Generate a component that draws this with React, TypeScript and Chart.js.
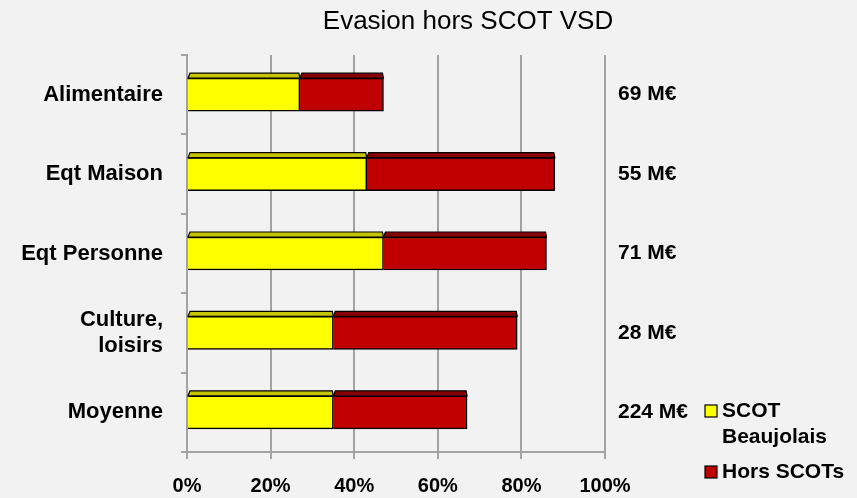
import React, { useEffect, useRef } from "react";
import { Chart, registerables } from "chart.js";

Chart.register(...registerables);

const chartTitle = "Evasion hors SCOT VSD";
const categories: (string | string[])[] = ["Alimentaire", "Eqt Maison", "Eqt Personne", ["Culture,", "loisirs"], "Moyenne"];
const scotBeaujolais = [27, 43, 47, 35, 35];
const horsScots = [20, 45, 39, 44, 32];
const totals = ["69 M€", "55 M€", "71 M€", "28 M€", "224 M€"];
const seriesNames = ["SCOT Beaujolais", "Hors SCOTs"];
const legendLines = [["SCOT", "Beaujolais"], ["Hors SCOTs"]];

const FONT = "'Liberation Sans', Arial, sans-serif";
const BG = "#f2f2f2";
const GRID = "#a3a3a3";
const faceColors = ["#ffff00", "#c00000"];
const topColors = ["#c4c400", "#8a0000"];

const bgPlugin = {
  id: "bg",
  beforeDraw(chart: any) {
    const { ctx, width, height } = chart;
    ctx.save();
    ctx.fillStyle = BG;
    ctx.fillRect(0, 0, width, height);
    ctx.restore();
  },
};

const topFacePlugin = {
  id: "topFace",
  afterDatasetsDraw(chart: any) {
    const ctx = chart.ctx;
    chart.data.datasets.forEach((ds: any, di: number) => {
      const meta = chart.getDatasetMeta(di);
      meta.data.forEach((el: any) => {
        const p = el.getProps(["x", "y", "base", "height"], true);
        const top = p.y - p.height / 2;
        const x0 = Math.min(p.base, p.x);
        const x1 = Math.max(p.base, p.x);
        ctx.save();
        ctx.beginPath();
        ctx.moveTo(x0, top);
        ctx.lineTo(x0 + 2, top - 5);
        ctx.lineTo(x1 - 1, top - 5);
        ctx.lineTo(x1, top);
        ctx.closePath();
        ctx.fillStyle = topColors[di];
        ctx.fill();
        ctx.lineWidth = 1.2;
        ctx.strokeStyle = "#000";
        ctx.stroke();
        ctx.restore();
      });
    });
  },
};

const titlePlugin = {
  id: "customTitle",
  afterDraw(chart: any) {
    const ctx = chart.ctx;
    ctx.save();
    ctx.font = `26px ${FONT}`;
    ctx.fillStyle = "#000";
    ctx.textAlign = "center";
    ctx.textBaseline = "middle";
    ctx.fillText(chartTitle, 468, 22);
    ctx.restore();
  },
};

const legendPlugin = {
  id: "customLegend",
  afterDraw(chart: any) {
    const ctx = chart.ctx;
    const starts = [405, 466];
    ctx.save();
    ctx.font = `bold 21px ${FONT}`;
    ctx.textAlign = "left";
    ctx.textBaseline = "middle";
    chart.data.datasets.forEach((ds: any, i: number) => {
      const y = starts[i];
      ctx.fillStyle = ds.backgroundColor;
      ctx.fillRect(705, y, 12, 12);
      ctx.strokeStyle = "#000";
      ctx.lineWidth = 1.2;
      ctx.strokeRect(705, y, 12, 12);
      ctx.fillStyle = "#000";
      legendLines[i].forEach((line, li) => {
        ctx.fillText(line, 722, y + 6 + li * 26);
      });
    });
    ctx.restore();
  },
};

export default function App() {
  const ref = useRef<HTMLCanvasElement>(null);

  useEffect(() => {
    document.body.style.margin = "0";
    document.body.style.background = BG;
    Chart.defaults.font.family = FONT;
    const chart = new Chart(ref.current!, {
      type: "bar",
      data: {
        labels: categories as any,
        datasets: [
          {
            label: seriesNames[0],
            data: scotBeaujolais,
            backgroundColor: faceColors[0],
            borderColor: "#000",
            borderWidth: 1.5,
            barThickness: 33,
          },
          {
            label: seriesNames[1],
            data: horsScots,
            backgroundColor: faceColors[1],
            borderColor: "#000",
            borderWidth: 1.5,
            barThickness: 33,
          },
        ],
      },
      options: {
        indexAxis: "y",
        responsive: false,
        animation: false,
        layout: { padding: { top: 55, left: 0, right: 0, bottom: 0 } },
        plugins: {
          legend: { display: false },
          title: { display: false },
          tooltip: { enabled: false },
        },
        scales: {
          x: {
            stacked: true,
            min: 0,
            max: 100,
            ticks: {
              stepSize: 20,
              callback: (v: any) => `${v}%`,
              color: "#000",
              font: { size: 20, weight: "bold" },
              padding: 15,
            },
            grid: { color: GRID, lineWidth: 2, drawTicks: true, tickLength: 7 },
            border: { display: true, color: GRID, width: 2 },
            afterFit: (s: any) => {
              s.height = 46;
            },
          },
          y: {
            stacked: true,
            position: "left",
            ticks: {
              color: "#000",
              font: { size: 22, weight: "bold" },
              padding: 18,
            },
            grid: { drawOnChartArea: false, drawTicks: true, tickLength: 6, color: GRID, lineWidth: 2 },
            border: { display: true, color: GRID, width: 2 },
            afterFit: (s: any) => {
              s.width = 187;
            },
          },
          y2: {
            type: "category",
            labels: totals,
            position: "right",
            offset: true,
            grid: { display: false },
            border: { display: false },
            ticks: {
              color: "#000",
              font: { size: 21, weight: "bold" },
              padding: 5,
            },
            afterFit: (s: any) => {
              s.width = 252;
            },
          },
        },
      } as any,
      plugins: [bgPlugin, topFacePlugin, titlePlugin, legendPlugin],
    });
    return () => chart.destroy();
  }, []);

  return (
    <div style={{ width: 857, height: 498 }}>
      <canvas ref={ref} width={857} height={498} style={{ display: "block" }} />
    </div>
  );
}
